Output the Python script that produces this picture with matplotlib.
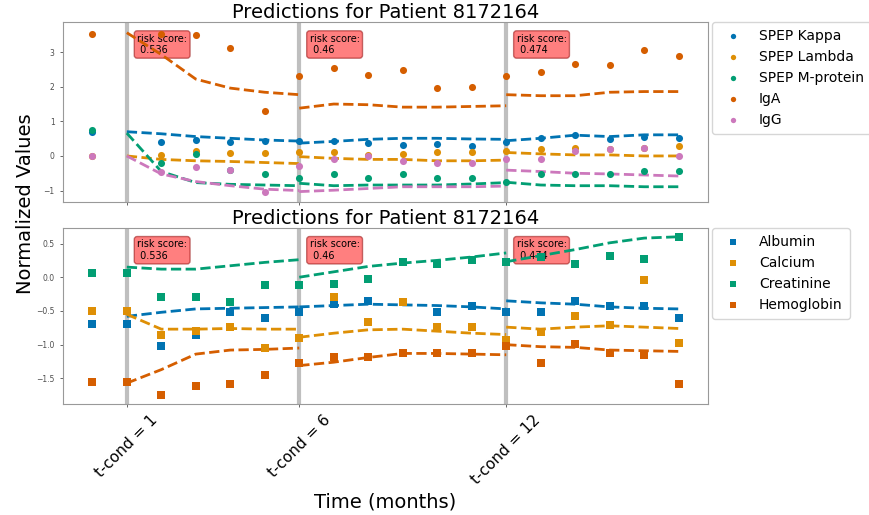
import numpy as np
import matplotlib
matplotlib.use('Agg')
import matplotlib.pyplot as plt

nan = np.nan

# x axis (months) and conditioning points
months = [0, 1, 2, 3, 4, 5, 6, 7, 8, 9, 10, 11, 12, 13, 14, 15, 16, 17]
t_conds = [1, 6, 12]
risk_scores = ['0.536', '0.46', '0.474']
seg_months = [[1, 2, 3, 4, 5, 6],
              [6, 7, 8, 9, 10, 11, 12],
              [12, 13, 14, 15, 16, 17]]

# top panel observed values
kappa = [0.68, nan, 0.41, 0.46, 0.39, 0.42, 0.42, 0.42, 0.37, 0.32, 0.34, 0.30, 0.39, 0.51, 0.61, 0.50, 0.54, 0.51]
lambda_ = [0.0, nan, 0.03, 0.13, 0.08, 0.08, 0.10, 0.10, 0.02, 0.06, 0.12, 0.10, 0.13, 0.19, 0.24, 0.19, 0.22, 0.30]
mprot = [0.75, nan, -0.19, 0.05, -0.42, -0.53, -0.65, -0.53, -0.65, -0.53, -0.65, -0.65, -0.76, -0.53, -0.53, -0.53, -0.43, -0.43]
iga = [3.51, nan, 3.51, 3.48, 3.13, 1.29, 2.32, 2.53, 2.34, 2.48, 1.95, 2.00, 2.32, 2.43, 2.65, 2.64, 3.07, 2.90]
igg = [0.0, nan, -0.47, -0.31, -0.42, -1.03, -0.28, -0.10, 0.0, -0.14, -0.19, -0.21, -0.10, -0.10, 0.15, 0.19, 0.24, 0.0]

# top panel predictions (one list per conditioning point)
kappa_pred = [[0.70, 0.64, 0.56, 0.51, 0.46, 0.43],
              [0.37, 0.42, 0.48, 0.51, 0.51, 0.49, 0.48],
              [0.44, 0.51, 0.60, 0.56, 0.61, 0.61]]
lambda_pred = [[0.0, -0.10, -0.14, -0.16, -0.19, -0.22],
               [-0.02, -0.07, -0.10, -0.10, -0.14, -0.14, -0.12],
               [0.10, 0.06, 0.03, 0.03, 0.0, 0.0]]
mprot_pred = [[0.66, -0.45, -0.77, -0.82, -0.84, -0.86],
              [-0.79, -0.86, -0.84, -0.84, -0.84, -0.81, -0.77],
              [-0.76, -0.84, -0.86, -0.86, -0.89, -0.89]]
iga_pred = [[3.56, 2.93, 2.22, 1.96, 1.84, 1.77],
            [1.38, 1.50, 1.48, 1.41, 1.41, 1.43, 1.45],
            [1.77, 1.74, 1.74, 1.84, 1.86, 1.86]]
igg_pred = [[0.0, -0.52, -0.74, -0.86, -0.96, -1.0],
            [-1.03, -0.99, -0.94, -0.89, -0.89, -0.89, -0.87],
            [-0.41, -0.45, -0.50, -0.52, -0.55, -0.58]]

# bottom panel observed values
albumin = [-0.70, -0.70, -1.02, -0.86, -0.52, -0.61, -0.52, -0.39, -0.35, -0.37, -0.52, -0.43, -0.52, -0.52, -0.35, -0.43, -0.43, -0.61]
calcium = [-0.50, -0.50, -0.86, -0.80, -0.74, -1.05, -0.90, -0.30, -0.66, -0.36, -0.74, -0.74, -0.93, -0.81, -0.57, -0.71, -0.04, -0.98]
creatinine = [0.06, 0.06, -0.29, -0.29, -0.36, -0.12, -0.12, -0.10, -0.02, 0.22, 0.20, 0.25, 0.22, 0.30, 0.19, 0.32, 0.27, 0.60]
hemoglobin = [-1.56, -1.56, -1.75, -1.61, -1.59, -1.45, -1.27, -1.18, -1.18, -1.12, -1.12, -1.12, -1.02, -1.27, -0.99, -1.12, -1.15, -1.59]

# bottom panel predictions
albumin_pred = [[-0.58, -0.52, -0.47, -0.46, -0.45, -0.44],
                [-0.44, -0.42, -0.40, -0.41, -0.42, -0.44, -0.47],
                [-0.35, -0.38, -0.40, -0.44, -0.46, -0.47]]
calcium_pred = [[-0.55, -0.77, -0.77, -0.76, -0.77, -0.77],
                [-0.89, -0.83, -0.78, -0.77, -0.80, -0.83, -0.85],
                [-0.74, -0.77, -0.74, -0.72, -0.74, -0.76]]
creatinine_pred = [[0.15, 0.12, 0.12, 0.17, 0.22, 0.26],
                   [0.0, 0.08, 0.16, 0.21, 0.25, 0.30, 0.36],
                   [0.23, 0.32, 0.41, 0.51, 0.58, 0.60]]
hemoglobin_pred = [[-1.57, -1.37, -1.14, -1.08, -1.07, -1.05],
                   [-1.31, -1.26, -1.19, -1.13, -1.13, -1.14, -1.15],
                   [-1.00, -1.03, -1.04, -1.08, -1.09, -1.10]]

colors = ['#0173b2', '#de8f05', '#029e73', '#d55e00', '#cc78bc']

top_series = [('SPEP Kappa', kappa, kappa_pred),
              ('SPEP Lambda', lambda_, lambda_pred),
              ('SPEP M-protein', mprot, mprot_pred),
              ('IgA', iga, iga_pred),
              ('IgG', igg, igg_pred)]
bottom_series = [('Albumin', albumin, albumin_pred),
                 ('Calcium', calcium, calcium_pred),
                 ('Creatinine', creatinine, creatinine_pred),
                 ('Hemoglobin', hemoglobin, hemoglobin_pred)]

fig = plt.figure(figsize=(8.69, 5.15), dpi=100)
ax1 = fig.add_axes([0.0725, 0.6078, 0.7422, 0.3495])
ax2 = fig.add_axes([0.0725, 0.2155, 0.7422, 0.3418], sharex=ax1)


def draw_panel(ax, series, marker, ylim):
    for t in t_conds:
        ax.axvline(t, color='gray', alpha=0.5, linewidth=3, zorder=1)
    for i, (name, obs, preds) in enumerate(series):
        ax.scatter(months, obs, color=colors[i], marker=marker, s=26,
                   label=name, zorder=3, linewidths=0)
        for xs, ys in zip(seg_months, preds):
            ax.plot(xs, ys, color=colors[i], linestyle='--', linewidth=2, zorder=2)
    for t, r in zip(t_conds, risk_scores):
        ax.text(t + 0.3, 0.935, 'risk score:\n ' + r,
                transform=ax.get_xaxis_transform(), fontsize=7, va='top', ha='left',
                bbox=dict(boxstyle='round', facecolor='red', edgecolor='darkred', alpha=0.5),
                zorder=1)
    ax.set_ylim(*ylim)
    ax.set_title('Predictions for Patient 8172164', fontsize=14, pad=3)
    ax.tick_params(labelsize=5.5, length=2.5, width=0.6, colors='0.3')
    for s in ax.spines.values():
        s.set_color('0.6')
    ax.legend(loc='upper left', bbox_to_anchor=(1.006, 1.0), borderaxespad=0,
              fontsize=10, markerscale=0.75, handletextpad=0.9, borderpad=0.5)


draw_panel(ax1, top_series, 'o', (-1.33, 3.87))
draw_panel(ax2, bottom_series, 's', (-1.88, 0.73))

ax1.set_xlim(-0.85, 17.85)
ax1.tick_params(labelbottom=False)
ax2.set_xticks(t_conds)
ax2.set_xticklabels(['t-cond = %d' % t for t in t_conds], rotation=45, fontsize=11, color='black')
ax2.set_xlabel('Time (months)', fontsize=14)

fig.text(0.029, 0.605, 'Normalized Values', rotation=90, fontsize=14, va='center', ha='center')

fig.savefig('out.png', dpi=100)
